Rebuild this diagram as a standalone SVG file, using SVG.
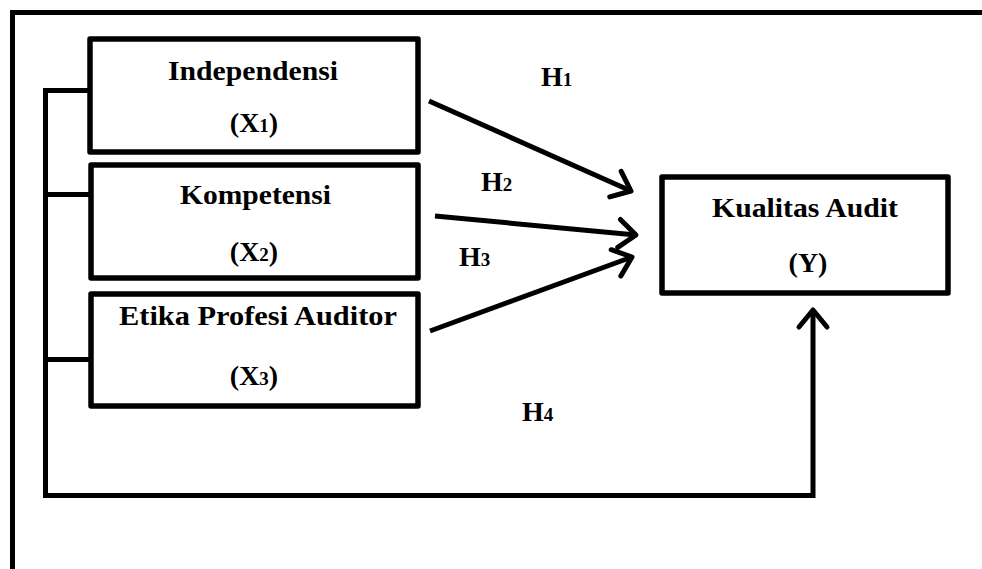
<svg xmlns="http://www.w3.org/2000/svg" width="982" height="569" viewBox="0 0 982 569">
<style>
.box{fill:#fff;stroke:#000;stroke-width:5.5;stroke-linejoin:round}
.ln{fill:none;stroke:#000;stroke-width:5}
.t{font-family:"Liberation Serif","Times New Roman",serif;font-weight:bold;font-size:28px;fill:#000}
.s{font-size:19px}
</style>
<defs>
<marker id="ah" markerUnits="userSpaceOnUse" viewBox="-30 -20 34 40" refX="0" refY="0" markerWidth="34" markerHeight="40" orient="auto" overflow="visible">
<path d="M-17,-14 L0,0 L-17,14" fill="none" stroke="#000" stroke-width="5" stroke-linecap="round" stroke-linejoin="round"/>
</marker>
</defs>
<rect x="12.5" y="12.5" width="1000" height="600" fill="#fff" stroke="#000" stroke-width="5"/>
<g id="connectors">
<polyline class="ln" points="90,90.5 45.5,90.5 45.5,495.5 813,495.5 813,310" marker-end="url(#ah)"/>
<line class="ln" x1="45.5" y1="194.5" x2="90" y2="194.5"/>
<line class="ln" x1="45.5" y1="359.5" x2="90" y2="359.5"/>
<line class="ln" x1="429" y1="101" x2="631" y2="191" marker-end="url(#ah)"/>
<line class="ln" x1="435" y1="216" x2="636" y2="235" marker-end="url(#ah)"/>
<line class="ln" x1="430" y1="331" x2="632" y2="257" marker-end="url(#ah)"/>
<text class="t" x="541" y="86">H<tspan class="s">1</tspan></text>
<text class="t" x="481" y="191">H<tspan class="s">2</tspan></text>
<text class="t" x="459" y="266">H<tspan class="s">3</tspan></text>
<text class="t" x="522" y="421">H<tspan class="s">4</tspan></text>
</g>
<g id="x1">
<rect class="box" x="90" y="39" width="328" height="113"/>
<text class="t" x="168" y="80" textLength="170" lengthAdjust="spacingAndGlyphs">Independensi</text>
<text class="t" x="254" y="132" text-anchor="middle">(X<tspan class="s">1</tspan>)</text>
</g>
<g id="x2">
<rect class="box" x="91" y="165" width="327" height="113"/>
<text class="t" x="180" y="204" textLength="151" lengthAdjust="spacingAndGlyphs">Kompetensi</text>
<text class="t" x="254" y="261" text-anchor="middle">(X<tspan class="s">2</tspan>)</text>
</g>
<g id="x3">
<rect class="box" x="91" y="294" width="327" height="112"/>
<text class="t" x="119" y="325" textLength="278" lengthAdjust="spacingAndGlyphs">Etika Profesi Auditor</text>
<text class="t" x="254" y="385" text-anchor="middle">(X<tspan class="s">3</tspan>)</text>
</g>
<g id="y">
<rect class="box" x="662" y="177" width="286" height="116"/>
<text class="t" x="712" y="217" textLength="186" lengthAdjust="spacingAndGlyphs">Kualitas Audit</text>
<text class="t" x="808" y="272" text-anchor="middle">(Y)</text>
</g>
</svg>
